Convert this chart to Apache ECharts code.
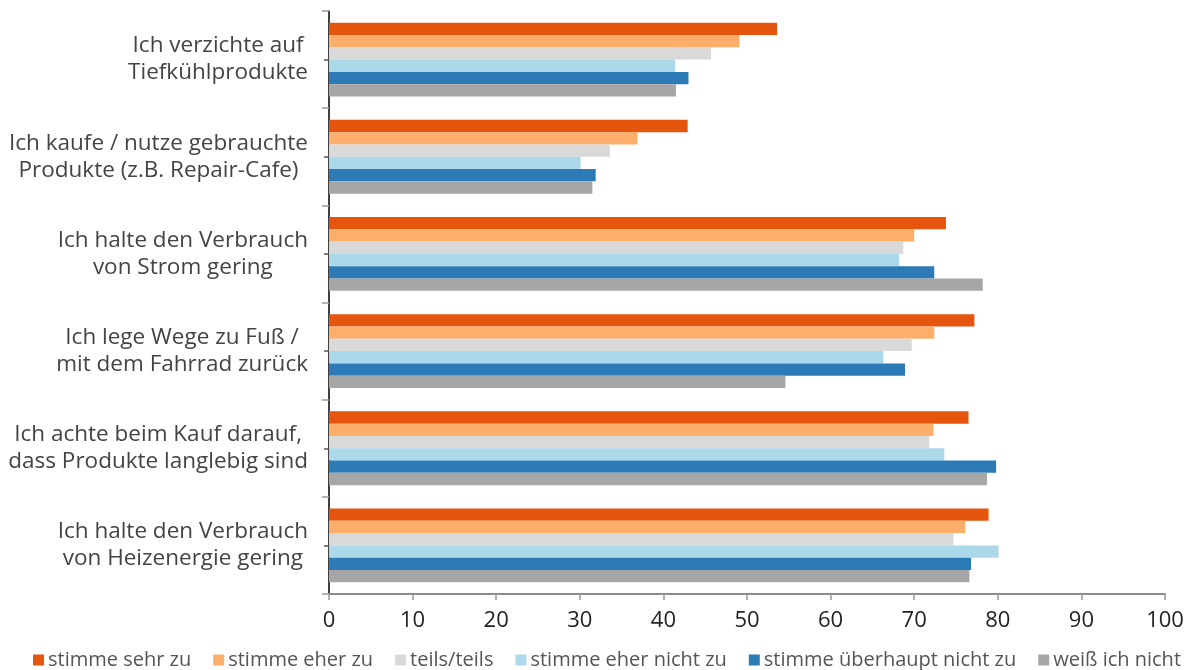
<!DOCTYPE html>
<html>
<head>
<meta charset="utf-8">
<script src="https://cdn.jsdelivr.net/npm/echarts@6/dist/echarts.min.js"></script>
<style>html,body{margin:0;padding:0;background:#fff}#c{width:1193px;height:670px}</style>
</head>
<body>
<div id="c"></div>
<script>
const categories = [
  "Ich verzichte auf\nTiefkühlprodukte",
  "Ich kaufe / nutze gebrauchte\nProdukte (z.B. Repair-Cafe)",
  "Ich halte den Verbrauch\nvon Strom gering",
  "Ich lege Wege zu Fuß /\nmit dem Fahrrad zurück",
  "Ich achte beim Kauf darauf,\ndass Produkte langlebig sind",
  "Ich halte den Verbrauch\nvon Heizenergie gering"
];
const seriesNames = ["stimme sehr zu", "stimme eher zu", "teils/teils", "stimme eher nicht zu", "stimme überhaupt nicht zu", "weiß ich nicht"];
const stimmeSehrZu = [53.6, 42.9, 73.8, 77.2, 76.5, 78.9];
const stimmeEherZu = [49.1, 36.9, 70.0, 72.4, 72.3, 76.1];
const teilsTeils = [45.7, 33.6, 68.7, 69.7, 71.8, 74.7];
const stimmeEherNichtZu = [41.4, 30.1, 68.2, 66.3, 73.6, 80.1];
const stimmeUeberhauptNichtZu = [43.0, 31.9, 72.4, 68.9, 79.8, 76.8];
const weissIchNicht = [41.5, 31.5, 78.2, 54.6, 78.7, 76.6];
const xTicks = [0, 10, 20, 30, 40, 50, 60, 70, 80, 90, 100];

const colors = ["#E6550D", "#FDAE6B", "#D9D9D9", "#ABD9E9", "#2C7BB6", "#A6A6A6"];
const values = [stimmeSehrZu, stimmeEherZu, teilsTeils, stimmeEherNichtZu, stimmeUeberhauptNichtZu, weissIchNicht];
const FONT = "Open Sans";

const chart = echarts.init(document.getElementById('c'), null, {renderer: 'canvas'});
chart.setOption({
  animation: false,
  backgroundColor: '#fff',
  color: colors,
  textStyle: {fontFamily: FONT},
  grid: {left: 329, right: 28, top: 11, bottom: 76},
  legend: {
    top: 645,
    left: 28,
    icon: 'rect',
    itemWidth: 11,
    itemHeight: 11,
    itemGap: 22,
    textStyle: {fontFamily: FONT, fontSize: 20, color: '#555', padding: [0, 0, 0, -1]},
    data: seriesNames
  },
  xAxis: {
    type: 'value',
    min: xTicks[0],
    max: xTicks[xTicks.length - 1],
    interval: 10,
    splitLine: {show: false},
    axisLine: {show: true, lineStyle: {color: '#8c8c8c', width: 2}},
    axisTick: {show: true, length: 6, lineStyle: {color: '#999', width: 1.5}},
    axisLabel: {fontFamily: FONT, fontSize: 22, color: '#222', margin: 16}
  },
  yAxis: [{
    type: 'category',
    inverse: true,
    data: categories,
    axisLine: {show: true, lineStyle: {color: '#000', width: 1.5}},
    axisTick: {show: true, length: 7, lineStyle: {color: '#999', width: 1.5}},
    axisLabel: {
      margin: 21,
      align: 'right',
      formatter: function (v) {
        return v.split('\n').map(function (l) { return '{c|' + l + '}'; }).join('\n');
      },
      rich: {c: {align: 'center', fontFamily: FONT, fontSize: 22.5, color: '#444', lineHeight: 27}}
    }
  }, {
    type: 'value',
    position: 'left',
    min: 0,
    max: 12,
    interval: 1,
    axisLine: {show: false},
    splitLine: {show: false},
    axisLabel: {show: false},
    axisTick: {show: true, length: 5, customValues: [1, 3, 5, 7, 9, 11], lineStyle: {color: '#555', width: 1.5}}
  }],
  series: seriesNames.map(function (n, i) {
    return {
      name: n,
      type: 'bar',
      yAxisIndex: 0,
      data: values[i],
      barGap: '0%',
      barCategoryGap: '24%',
      itemStyle: {color: colors[i]}
    };
  })
});
</script>
</body>
</html>
